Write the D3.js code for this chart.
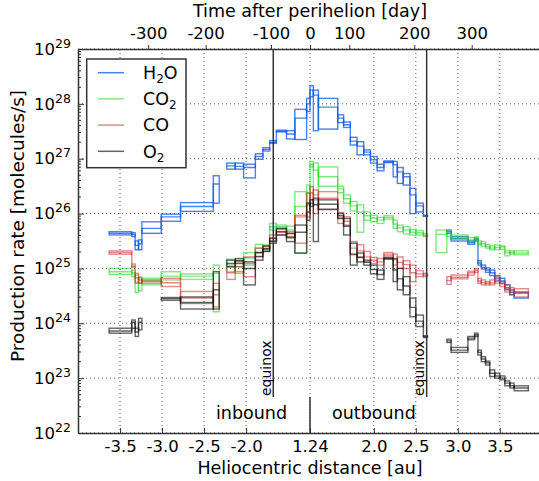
<!DOCTYPE html>
<html><head><meta charset="utf-8">
<script src="https://cdn.jsdelivr.net/npm/d3@7"></script>
<style>body{margin:0;background:#fff} text{font-family:"DejaVu Sans",sans-serif;fill:#000}</style>
</head><body><svg id="c" width="539" height="481"></svg>
<script>
(function(){
// ---- data ----
const speciesNames = ["H2O","CO2","CO","O2"];
const speciesColors = ["#0a5ae6","#19d419","#cc2a2a","#111111"];
// bin edges (signed heliocentric distance, au; negative = inbound)
const edgesA = [-3.63,-3.36,-3.32,-3.28,-3.24,-3.01,-2.78,-2.39,-2.32];
const edgesB = [-2.23,-2.13,-2.03,-1.89,-1.80,-1.72,-1.64,-1.52,-1.42,-1.28,-1.24];
const edgesC = [1.24,1.28,1.34,1.57,1.64,1.72,1.80,1.88,1.96,2.04,2.12,2.23,2.28,2.35,2.43,2.50,2.59,2.64];
const edgesD = [2.74,2.87,2.92,3.12,3.20,3.24,3.28,3.33,3.38,3.44,3.50,3.56,3.62,3.67,3.84];
// log10 production rates per bin (A:8, B:10, C:17, D:14)
const h2oLo = [25.61,25.58,25.34,25.34,25.64,25.86,26.04,26.19, 26.81,26.81,26.65,26.99,27.14,27.28,27.49,27.36,27.35,27.86, 28.13,27.51,27.54,27.66,27.57,27.25,27.07,27.07,26.92,26.78,26.93,26.67,26.55,26.52,26.00,26.03,25.95, null,25.64,25.50,25.44,25.50,25.06,24.99,24.93,24.87,24.77,24.73,24.61,24.52,24.46];
const h2oMid = [25.64,25.62,25.42,25.45,25.73,25.94,26.13,26.54, 26.87,26.86,26.84,27.04,27.17,27.30,27.50,27.45,27.74,28.00, 28.25,28.16,27.94,27.74,27.62,27.32,27.23,27.12,26.98,26.84,26.94,26.89,26.76,26.67,26.34,26.14,25.96, null,25.67,25.54,25.47,25.53,25.10,25.02,24.97,24.92,24.82,24.77,24.65,24.56,24.55];
const h2oHi = [25.67,25.65,25.50,25.52,25.85,25.99,26.20,26.69, 26.92,26.92,26.90,27.09,27.20,27.33,27.52,27.51,27.90,28.10, 28.33,28.25,28.10,27.80,27.67,27.39,27.31,27.16,27.04,26.90,26.96,26.95,26.84,26.73,26.46,26.19,25.97, null,25.70,25.58,25.50,25.55,25.14,25.06,25.01,24.97,24.87,24.82,24.70,24.61,24.57];
const co2Lo = [24.89,24.85,24.56,24.59,24.70,24.79,24.80,24.21, 24.94,24.91,25.06,25.28,25.32,25.70,25.73,25.58,25.28,26.19, 26.85,26.34,26.50,26.38,26.19,26.05,25.66,25.88,25.85,25.82,25.90,25.73,25.67,25.63,25.61,25.61,25.58, 25.29,25.58,25.54,25.49,25.52,25.43,25.40,25.37,25.34,25.34,25.35,25.23,25.26,25.25];
const co2Mid = [24.94,24.92,24.75,24.73,24.78,24.86,24.86,24.91, 25.06,25.03,25.19,25.37,25.37,25.76,25.76,25.70,26.13,26.38, 26.90,26.79,26.67,26.45,26.27,26.14,26.03,25.96,25.92,25.88,25.93,25.81,25.74,25.70,25.66,25.65,25.60, 25.62,25.64,25.57,25.52,25.55,25.46,25.45,25.40,25.37,25.38,25.39,25.28,25.29,25.28];
const co2Hi = [25.00,24.97,24.88,24.82,24.82,24.94,24.90,25.06, 25.17,25.15,25.29,25.44,25.43,25.82,25.79,25.77,26.40,26.52, 26.95,26.92,26.85,26.50,26.34,26.22,26.16,26.03,25.97,25.93,25.96,25.88,25.79,25.76,25.71,25.69,25.63, 25.70,25.68,25.61,25.56,25.58,25.50,25.49,25.44,25.41,25.43,25.41,25.32,25.32,25.32];
const coLo = [25.26,25.02,24.73,24.73,24.73,24.67,24.36,24.30, 24.80,24.94,24.85,25.21,25.31,25.49,25.61,25.58,25.46,25.94, 26.25,26.00,26.07,25.82,25.79,25.25,25.21,25.12,25.09,25.06,25.23,25.06,25.00,25.00,24.76,24.85,24.85, null,24.71,24.81,24.88,24.93,24.73,24.70,24.70,24.70,24.73,24.67,24.57,24.52,24.48];
const coMid = [25.29,25.04,24.83,24.79,24.76,24.74,24.46,24.52, 24.92,25.03,25.09,25.29,25.35,25.55,25.66,25.63,25.94,26.16, 26.38,26.25,26.28,25.92,25.86,25.37,25.32,25.21,25.15,25.12,25.26,25.16,25.11,25.07,24.92,24.90,24.88, null,24.78,24.84,24.92,24.97,24.77,24.74,24.73,24.74,24.79,24.72,24.63,24.59,24.56];
const coHi = [25.32,25.08,24.91,24.84,24.79,24.82,24.58,24.73, 25.03,25.12,25.21,25.37,25.40,25.61,25.71,25.67,25.97,26.37, 26.49,26.43,26.40,26.02,25.94,25.49,25.43,25.31,25.20,25.18,25.29,25.26,25.21,25.14,25.06,24.96,24.91, null,24.85,24.88,24.95,25.00,24.82,24.79,24.76,24.79,24.85,24.76,24.70,24.65,24.63];
const o2Lo = [23.82,23.91,23.76,23.88,null,24.42,24.26,24.26, 25.03,25.09,24.70,25.15,25.31,25.46,25.61,25.49,25.28,25.88, 26.13,25.49,26.08,25.91,25.61,25.06,25.12,25.06,24.90,24.80,25.17,24.76,24.61,24.52,24.12,23.94,23.74, null,23.65,23.47,23.70,23.76,23.42,23.30,23.24,23.03,23.00,22.97,22.86,22.82,22.77];
const o2Mid = [23.86,24.02,23.84,24.02,null,24.45,24.38,24.61, 25.09,25.14,25.00,25.22,25.36,25.50,25.67,25.56,25.66,26.03, 26.19,26.16,26.17,25.96,25.77,25.26,25.20,25.11,24.98,24.89,25.18,24.97,24.81,24.68,24.29,24.04,23.76, null,23.68,23.51,23.73,23.79,23.47,23.35,23.28,23.09,23.04,23.00,22.91,22.86,22.82];
const o2Hi = [23.91,24.06,23.91,24.09,null,24.47,24.48,24.94, 25.15,25.18,25.12,25.29,25.41,25.55,25.73,25.64,25.79,26.19, 26.25,26.28,26.25,26.00,25.91,25.46,25.28,25.15,25.06,24.97,25.20,25.18,25.00,24.85,24.46,24.15,23.77, null,23.71,23.56,23.76,23.82,23.51,23.39,23.31,23.15,23.09,23.04,22.95,22.91,22.86];
// axes
const distTicks = [-3.5,-3.0,-2.5,-2.0,1.24,2.0,2.5,3.0,3.5];
const distTickLabels = ["-3.5","-3.0","-2.5","-2.0","1.24","2.0","2.5","3.0","3.5"];
const timeTickLabels = ["-300","-200","-100","0","100","200","300"];
const timeTickDist = [-3.165,-2.482,-1.704,1.24,1.708,2.482,3.165];
const yExponents = [22,23,24,25,26,27,28,29];
const equinoxDist = [-1.677, 2.629];

// ---- drawing ----
const svg = d3.select("#c");
const L = 78, R = 541.8, T = 49, B = 433;
const xs = d3.scaleLinear().domain([-4,-1.24,1.24,4]).range([L,310,310,R]);
const ys = d3.scaleLog().domain([1e22,1e29]).range([B,T]);

// gridlines
const grid = svg.append("g").attr("stroke","#000").attr("stroke-width",0.8).attr("stroke-dasharray","1,3").attr("opacity",0.8);
distTicks.forEach(d => grid.append("line").attr("x1",xs(d)).attr("x2",xs(d)).attr("y1",T).attr("y2",B));
yExponents.forEach(e => grid.append("line").attr("x1",L).attr("x2",R).attr("y1",ys(Math.pow(10,e))).attr("y2",ys(Math.pow(10,e))));

// bins
const bins = [];
[edgesA,edgesB,edgesC,edgesD].forEach(ed => { for (let i=0;i<ed.length-1;i++) bins.push({x0:ed[i],x1:ed[i+1]}); });
const seriesData = [[h2oLo,h2oMid,h2oHi],[co2Lo,co2Mid,co2Hi],[coLo,coMid,coHi],[o2Lo,o2Mid,o2Hi]];
const opac = [0.75,0.55,0.55,0.65];

seriesData.forEach((sd,si) => {
  const [lo,mid,hi] = sd;
  const g = svg.append("g").attr("fill","none").attr("stroke",speciesColors[si]).attr("stroke-opacity",opac[si]).attr("stroke-width",1.4);
  const recs = bins.map((b,i)=>({b, lo:lo[i], mid:mid[i], hi:hi[i]})).filter(d=>d.lo!==null);
  g.selectAll("rect").data(recs).join("rect")
    .attr("x",d=>xs(d.b.x0)).attr("width",d=>xs(d.b.x1)-xs(d.b.x0))
    .attr("y",d=>ys(Math.pow(10,d.hi))).attr("height",d=>ys(Math.pow(10,d.lo))-ys(Math.pow(10,d.hi)));
  const pts = [];
  bins.forEach((b,i) => {
    if (mid[i]===null) { pts.push(null); return; }
    const prev = i>0 ? bins[i-1] : null;
    if (!prev || mid[i-1]===null || Math.abs(xs(prev.x1)-xs(b.x0))>0.5) pts.push(null);
    pts.push([xs(b.x0), ys(Math.pow(10,mid[i]))]);
    pts.push([xs(b.x1), ys(Math.pow(10,mid[i]))]);
  });
  g.append("path").attr("d", d3.line().defined(p=>p!==null)(pts));
});

// equinox & perihelion lines
svg.append("g").attr("stroke","#333").attr("stroke-width",1.5).selectAll("line").data(equinoxDist).join("line")
  .attr("x1",d=>xs(d)).attr("x2",d=>xs(d)).attr("y1",T).attr("y2",397);
svg.append("line").attr("x1",310).attr("x2",310).attr("y1",397).attr("y2",B).attr("stroke","#333").attr("stroke-width",1.5);
equinoxDist.forEach(d => {
  svg.append("text").attr("transform",`translate(${xs(d)-2.5},396) rotate(-90)`).attr("font-size",14).text("equinox");
});
svg.append("text").attr("x",287).attr("y",419).attr("text-anchor","end").attr("font-size",17.5).text("inbound");
svg.append("text").attr("x",332).attr("y",419).attr("text-anchor","start").attr("font-size",17.5).text("outbound");

// axes
const ax = svg.append("g");
const axB = ax.append("g").attr("transform",`translate(0,${B})`)
  .call(d3.axisBottom(xs).tickValues(distTicks).tickFormat((d,i)=>distTickLabels[i]).tickSizeInner(-5).tickSizeOuter(0).tickPadding(7));
const axT = ax.append("g").attr("transform",`translate(0,${T})`)
  .call(d3.axisTop(xs).tickValues(timeTickDist).tickFormat((d,i)=>timeTickLabels[i]).tickSizeInner(4).tickSizeOuter(0).tickPadding(6));
const axL = ax.append("g").attr("transform",`translate(${L},0)`)
  .call(d3.axisLeft(ys).tickValues(yExponents.map(e=>Math.pow(10,e))).tickFormat(()=>"").tickSizeInner(-6).tickSizeOuter(0).tickPadding(7));
[axB,axT,axL].forEach(g => {
  g.select(".domain").attr("stroke","#333").attr("stroke-width",1.5);
  g.selectAll(".tick line").attr("stroke","#333");
  g.selectAll("text").attr("font-size",16.5).attr("font-family","DejaVu Sans, sans-serif").attr("fill","#000");
});
axL.selectAll(".tick text").each(function(d,i){
  const t = d3.select(this);
  t.text(null);
  t.append("tspan").text("10");
  t.append("tspan").attr("font-size",12.5).attr("dy",-7).text(String(yExponents[i]));
});
const minor = ax.append("g").attr("stroke","#333");
yExponents.slice(0,-1).forEach(e => { for (let k=2;k<10;k++){ const y=ys(k*Math.pow(10,e)); minor.append("line").attr("x1",L).attr("x2",L+3).attr("y1",y).attr("y2",y);} });
ax.append("line").attr("x1",R).attr("x2",R).attr("y1",T).attr("y2",B).attr("stroke","#333").attr("stroke-width",1.5);

// titles
svg.append("text").attr("x",310).attr("y",17).attr("text-anchor","middle").attr("font-size",17.5).text("Time after perihelion [day]");
svg.append("text").attr("x",310).attr("y",474).attr("text-anchor","middle").attr("font-size",17.5).text("Heliocentric distance [au]");
svg.append("text").attr("transform","translate(24,226) rotate(-90)").attr("text-anchor","middle").attr("font-size",18.5).text("Production rate [molecules/s]");

// legend
const lg = svg.append("g");
lg.append("rect").attr("x",86.7).attr("y",59).attr("width",99.3).attr("height",108.7).attr("fill","#fff").attr("stroke","#333").attr("stroke-width",1.5);
const legendSubs = [["H","2","O"],["CO","2",""],["CO","",""],["O","2",""]];
speciesNames.forEach((n,i) => {
  const y = 72.7 + i*26.2;
  lg.append("line").attr("x1",98).attr("x2",124).attr("y1",y).attr("y2",y).attr("stroke",speciesColors[i]).attr("stroke-opacity",opac[i]).attr("stroke-width",1.5);
  const t = lg.append("text").attr("x",143).attr("y",y+6.3).attr("font-size",17.5);
  const s = legendSubs[i];
  t.append("tspan").text(s[0]);
  if (s[1]) t.append("tspan").attr("font-size",12).attr("dy",4).text(s[1]);
  if (s[2]) t.append("tspan").attr("dy",-4).text(s[2]);
});
})();
</script></body></html>
